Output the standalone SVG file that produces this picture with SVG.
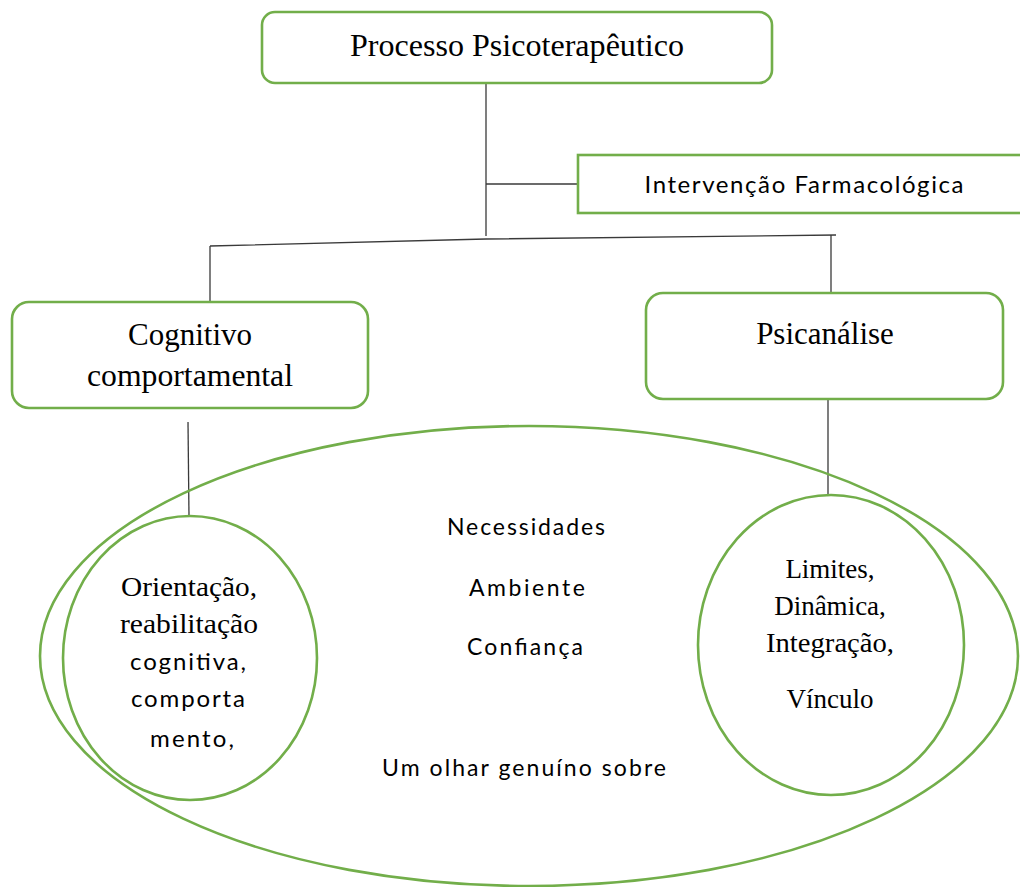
<svg xmlns="http://www.w3.org/2000/svg" width="1020" height="887" viewBox="0 0 1020 887">
<style>
.box{fill:#fff;stroke:#72ae4a;stroke-width:2.6}
.ring{fill:none;stroke:#72ae4a;stroke-width:2.6}
.conn{fill:none;stroke:#3a3a3a;stroke-width:1.3}
.serif{font-family:"Liberation Serif","Times New Roman",serif;fill:#000;text-anchor:middle}
.sans{font-family:Lato,"Open Sans","Liberation Sans",sans-serif;fill:#000;text-anchor:middle}
</style>
<rect width="1020" height="887" fill="#fff"/>
<g id="connectors">
<line class="conn" x1="486" y1="83" x2="486" y2="236"/>
<line class="conn" x1="486" y1="184" x2="582" y2="184"/>
<polyline class="conn" points="210,246 486,239 836,235"/>
<line class="conn" x1="210" y1="246" x2="210" y2="302"/>
<line class="conn" x1="831" y1="235" x2="831" y2="293"/>
<line class="conn" x1="188" y1="422" x2="189" y2="517"/>
<line class="conn" x1="828" y1="400" x2="828" y2="495"/>
</g>
<g id="outer-ellipse">
<ellipse class="ring" cx="529" cy="656" rx="489" ry="230"/>
<text class="sans" font-size="23" x="526" y="535" textLength="158" lengthAdjust="spacing">Necessidades</text>
<text class="sans" font-size="23" x="527" y="596" textLength="116" lengthAdjust="spacing">Ambiente</text>
<text class="sans" font-size="23" x="525" y="655" textLength="116" lengthAdjust="spacing">Confiança</text>
<text class="sans" font-size="23" x="524" y="776" textLength="284" lengthAdjust="spacing">Um olhar genuíno sobre</text>
</g>
<g id="node-processo">
<rect class="box" x="262" y="12" width="510" height="71" rx="13"/>
<text class="serif" font-size="31" x="517" y="56" textLength="334" lengthAdjust="spacingAndGlyphs">Processo Psicoterapêutico</text>
</g>
<g id="node-intervencao">
<rect class="box" x="578" y="155" width="446" height="58"/>
<text class="sans" font-size="24" x="804" y="193" textLength="319" lengthAdjust="spacing">Intervenção Farmacológica</text>
</g>
<g id="node-cognitivo">
<rect class="box" x="12" y="302" width="356" height="106" rx="17"/>
<text class="serif" font-size="31" x="190" y="345">Cognitivo</text>
<text class="serif" font-size="31" x="190" y="386" textLength="206" lengthAdjust="spacingAndGlyphs">comportamental</text>
</g>
<g id="node-psicanalise">
<rect class="box" x="646" y="293" width="357" height="106" rx="17"/>
<text class="serif" font-size="31" x="825" y="344">Psicanálise</text>
</g>
<g id="node-orientacao">
<ellipse class="ring" cx="190" cy="658" rx="127" ry="142"/>
<text class="serif" font-size="27" x="189" y="596" textLength="136" lengthAdjust="spacingAndGlyphs">Orientação,</text>
<text class="serif" font-size="27" x="189" y="633" textLength="138" lengthAdjust="spacingAndGlyphs">reabilitação</text>
<text class="sans" font-size="24" x="188" y="670" textLength="116" lengthAdjust="spacing">cognitiva,</text>
<text class="sans" font-size="24" x="188" y="707" textLength="114" lengthAdjust="spacing">comporta</text>
<text class="sans" font-size="24" x="192" y="747" textLength="84" lengthAdjust="spacing">mento,</text>
</g>
<g id="node-limites">
<ellipse class="ring" cx="831" cy="645" rx="133" ry="150"/>
<text class="serif" font-size="27" x="830" y="578">Limites,</text>
<text class="serif" font-size="27" x="830" y="615">Dinâmica,</text>
<text class="serif" font-size="27" x="830" y="652" textLength="128" lengthAdjust="spacingAndGlyphs">Integração,</text>
<text class="serif" font-size="27" x="830" y="708">Vínculo</text>
</g>
</svg>
